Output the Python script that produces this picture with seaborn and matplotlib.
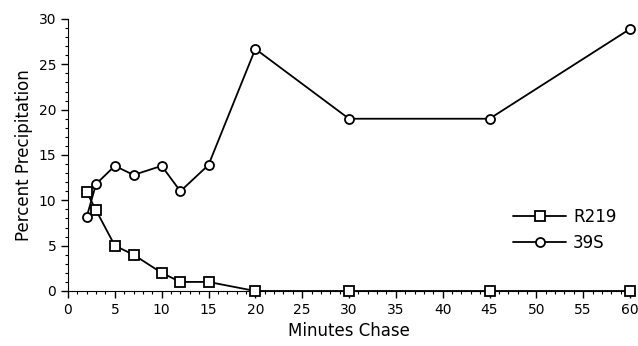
import matplotlib.pyplot as plt
import seaborn as sns
import pandas as pd
from matplotlib.ticker import MultipleLocator

sns.set_style('ticks')
plt.rcParams['font.family'] = ['DejaVu Sans']
plt.rcParams['text.color'] = 'black'
plt.rcParams['axes.labelcolor'] = 'black'
plt.rcParams['xtick.color'] = 'black'
plt.rcParams['ytick.color'] = 'black'
plt.rcParams['axes.edgecolor'] = 'black'

minutes = [2, 3, 5, 7, 10, 12, 15, 20, 30, 45, 60]
r219 = [10.9, 8.9, 5.0, 4.0, 2.0, 1.0, 1.0, 0.0, 0.0, 0.0, 0.0]
s39 = [8.2, 11.8, 13.8, 12.8, 13.8, 11.0, 13.9, 26.7, 19.0, 19.0, 28.9]

df = pd.DataFrame({'Minutes': minutes * 2,
                   'Percent': r219 + s39,
                   'Series': ['R219'] * len(minutes) + ['39S'] * len(minutes)})

fig = plt.figure(figsize=(6.38, 3.46), dpi=100)
ax = fig.add_axes([68 / 638, 55 / 346, 562 / 638, 272 / 346])

sns.lineplot(data=df, x='Minutes', y='Percent', hue='Series', style='Series',
             markers={'R219': 's', '39S': 'o'}, dashes=False,
             palette={'R219': 'black', '39S': 'black'},
             markersize=6.5, markerfacecolor='white', markeredgecolor='black',
             markeredgewidth=1.3, linewidth=1.3, ax=ax, clip_on=False, zorder=3)

ax.set_xlim(0, 60)
ax.set_ylim(0, 30)
ax.xaxis.set_major_locator(MultipleLocator(5))
ax.xaxis.set_minor_locator(MultipleLocator(1))
ax.yaxis.set_major_locator(MultipleLocator(5))
ax.yaxis.set_minor_locator(MultipleLocator(1))
ax.tick_params(which='major', direction='out', length=5, width=1, labelsize=10)
ax.tick_params(which='minor', direction='out', length=2.5, width=0.8)
sns.despine(ax=ax)
ax.set_xlabel('Minutes Chase', fontsize=12)
ax.set_ylabel('Percent Precipitation', fontsize=12)

leg = ax.legend(loc='center left', bbox_to_anchor=(0.765, 0.225), frameon=False,
                fontsize=12, handlelength=3.2, handletextpad=0.4, labelspacing=0.45)
for h in leg.legend_handles:
    h.set_markerfacecolor('white')
    h.set_markeredgecolor('black')

fig.savefig('out.png', dpi=100)
